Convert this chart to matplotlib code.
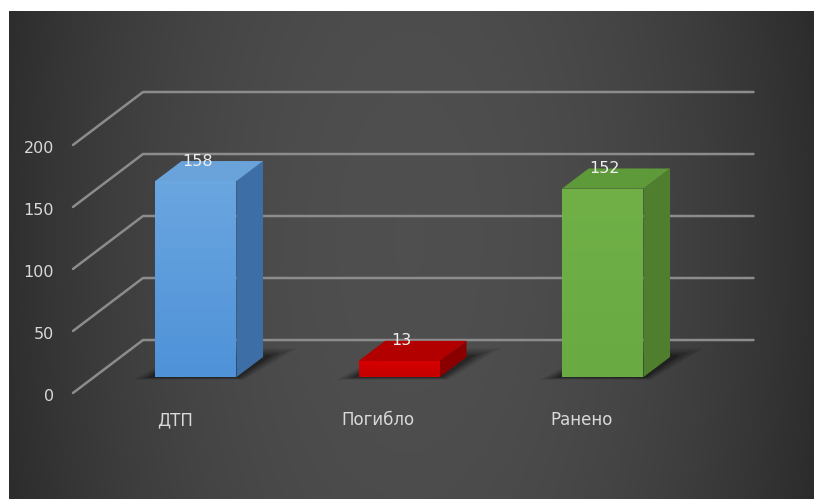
import numpy as np
import matplotlib

matplotlib.use("Agg")
import matplotlib.pyplot as plt
from matplotlib.patches import Polygon

# данные
categories = ["ДТП", "Погибло", "Ранено"]
values = [158, 13, 152]
y_ticks = [0, 50, 100, 150, 200]

front_colors = [("#6aa6e0", "#4f92d8"), ("#d80000", "#c40000"), ("#70b047", "#6aaa43")]
side_colors = ["#3d6fa6", "#8a0000", "#4e7e2e"]
top_colors = ["#6aa2da", "#b20000", "#5e9a3a"]

# псевдо-3D: смещение глубины (в единицах категорий / значений)
DX, DY = 0.344, 42.7
W = 0.40
D0, D1 = 0.30, 0.68


def proj(x, v, d):
    return x + d * DX, v + d * DY


fig = plt.figure(figsize=(8.14, 4.99), dpi=100)
fig.patch.set_facecolor("white")

# фон с радиальным градиентом
bg = fig.add_axes([9 / 814, 0, 1 - 9 / 814, 1 - 11 / 499])
bg.set_axis_off()
h_px, w_px = 488, 805
yy, xx = np.mgrid[0:h_px, 0:w_px]
r2 = ((xx - 400) / 430.0) ** 2 + ((yy - 230) / 900.0) ** 2
c = np.clip(0.31 - 0.145 * r2, 0.15, 1)
bg.imshow(np.dstack([c, c, c]), aspect="auto", extent=(0, 1, 0, 1))
bg.set_xlim(0, 1)
bg.set_ylim(0, 1)

ax = fig.add_axes([0, 0, 1, 1])
ax.patch.set_alpha(0)
ax.set_axis_off()
ax.set_xlim(-0.8587, 3.1413)
ax.set_ylim(-85.5, 316.9)

grid_kw = dict(color="#8c8c8c", lw=1.8, zorder=1, solid_capstyle="round")
for v in y_ticks:
    x0, y0 = proj(-0.5, v, 0)
    x1, y1 = proj(-0.5, v, 1)
    x2, y2 = proj(2.5, v, 1)
    ax.plot([x0, x1, x2], [y0, y1, y2], **grid_kw)
    ax.text(-0.594, v - 3, str(v), ha="right", va="center", fontsize=11.5,
            color="#d9d9d9")

for i, (cat, h) in enumerate(zip(categories, values)):
    xl, xr = i - W / 2, i + W / 2
    # тень на полу
    for k, a in enumerate([0.10, 0.12, 0.16, 0.22]):
        gx = 0.09 - k * 0.02
        gd = 0.16 - k * 0.04
        pts = [proj(xl - gx, 0, D0 - gd * 0.3), proj(xr + gx * 0.6, 0, D0 - gd * 0.3),
               proj(xr + gx * 1.2, 0, D1 + gd), proj(xl, 0, D1 + gd)]
        ax.add_patch(Polygon(pts, closed=True, facecolor="black", alpha=a,
                             edgecolor="none", zorder=2))

    front = [proj(xl, 0, D0), proj(xr, 0, D0), proj(xr, h, D0), proj(xl, h, D0)]
    side = [proj(xr, 0, D0), proj(xr, 0, D1), proj(xr, h, D1), proj(xr, h, D0)]
    top = [proj(xl, h, D0), proj(xr, h, D0), proj(xr, h, D1), proj(xl, h, D1)]

    ax.add_patch(Polygon(side, closed=True, facecolor=side_colors[i],
                         edgecolor="none", zorder=3))
    ax.add_patch(Polygon(top, closed=True, facecolor=top_colors[i],
                         edgecolor="none", zorder=3))
    fp = Polygon(front, closed=True, facecolor="none", edgecolor="none", zorder=4)
    ax.add_patch(fp)
    c_top = np.array(matplotlib.colors.to_rgb(front_colors[i][0]))
    c_bot = np.array(matplotlib.colors.to_rgb(front_colors[i][1]))
    t = np.linspace(0, 1, 64)[:, None]
    grad = (c_top * (1 - t) + c_bot * t)[:, None, :]
    fx0, fy0 = proj(xl, 0, D0)
    fx1, fy1 = proj(xr, h, D0)
    im = ax.imshow(grad, aspect="auto", extent=(fx0, fx1, fy0, fy1),
                   origin="upper", zorder=4)
    im.set_clip_path(fp)

    lx, ly = proj(i + 0.01, h, D0)
    ax.text(lx, h + D1 * DY, str(h), ha="center", va="center", fontsize=11.5,
            color="#eeeeee", zorder=6)

    cx, cy = proj(i, -22, 0)
    ax.text(cx, -22, cat, ha="center", va="center", fontsize=12,
            color="#d9d9d9", zorder=6)

ax.set_xlim(-0.8587, 3.1413)
ax.set_ylim(-85.5, 316.9)

fig.savefig("out.png", dpi=100)
